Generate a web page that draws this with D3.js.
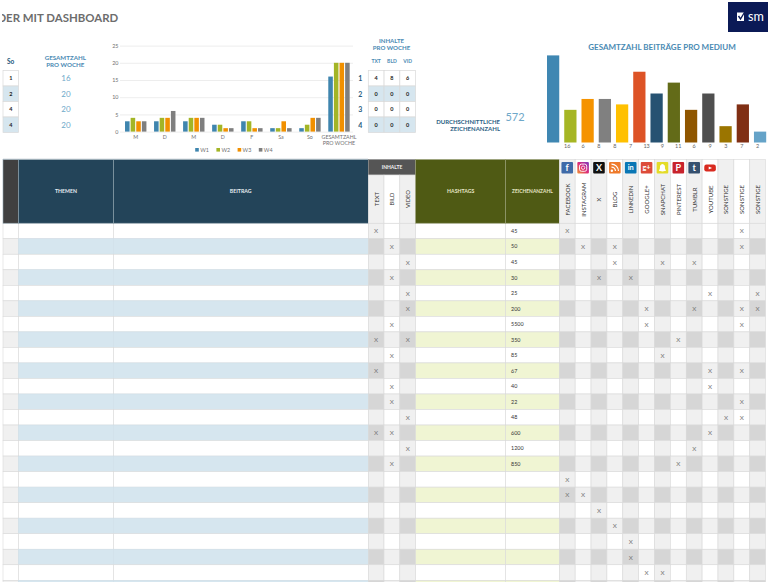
<!DOCTYPE html>
<html><head><meta charset="utf-8">
<script src="https://cdn.jsdelivr.net/npm/d3@7/dist/d3.min.js"></script>
<style>
html,body{margin:0;padding:0;background:#fff;overflow:hidden}
svg{display:block}
text{font-family:Lato,"Open Sans",sans-serif}
</style></head><body>
<svg id="c" width="768" height="582" viewBox="0 0 768 582"></svg>
<script>
// ---- data ----
const dayLabels = ["M","D","M","D","F","Sa","So","GESAMTZAHL|PRO WOCHE"];
const weekNames = ["W1","W2","W3","W4"];
const w1 = [3,3,3,2,3,1,1,16];
const w2 = [4,4,4,2,3,1,2,20];
const w3 = [3,4,4,1,1,3,4,20];
const w4 = [3,6,4,1,1,1,4,20];
const weekTicks = [0,5,10,15,20,25];
const sundayValues = [1,2,4,4];
const weekTotals = [16,20,20,20];
const weekNumbers = [1,2,3,4];
const contentKinds = ["TXT","BLD","VID"];
const contentPerWeek = [[4,8,6],[0,0,0],[0,0,0],[0,0,0]];
const avgChars = 572;
const platforms = ["FACEBOOK","INSTAGRAM","X","BLOG","LINKEDIN","GOOGLE+","SNAPCHAT","PINTEREST","TUMBLR","YOUTUBE","SONSTIGE","SONSTIGE ","SONSTIGE  "];
const platformTotals = [16,6,8,8,7,13,9,11,6,9,3,7,2];
const contentHeads = ["TEXT","BILD","VIDEO"];
const rowContent = [["TEXT"],["BILD"],["VIDEO"],["BILD"],["VIDEO"],["VIDEO"],["BILD"],["TEXT","VIDEO"],["BILD"],["TEXT"],["BILD"],["BILD"],["VIDEO"],["TEXT","BILD"],["VIDEO"],["BILD"],[],[],[],[],[],[],[],[]];
const rowChars = [45,50,45,30,25,200,5500,350,85,67,40,22,48,600,1200,850,"","","","","","","",""];
const rowPlatforms = [[0,11],[1,3,11],[3,6,8],[2,4],[9,12],[5,8,11,12],[5,11],[7],[6],[9,11],[9],[11],[10,11],[9],[8],[7],[0],[0,1],[2],[3],[4],[4],[5,6],[]];

// ---- styling ----
const weekColors = ["#3f85ae","#a3b526","#f19000","#7f7f7f"];
const mediumColors = ["#3f87b2","#a6b624","#f59300","#808080","#ffc000","#dd5326","#265272","#636b18","#8f5600","#4f4f4f","#9b7500","#802f14","#65a3c8"];
const iconFill = ["#3f6aa8","url(#ig)","#111111","#ee7a2b","#0a77b5","#dd4b39","#e4dc28","#c8232c","#35506f","#d92b20"];
const iconGlyph = ["f","","X","","in","g+","","P","t",""];
const blue = "#4a8ab3", light = "#6ea8c9";

const svg = d3.select("#c");
const defs = svg.append("defs");
defs.append("clipPath").attr("id","ct").append("rect").attr("x",2).attr("y",0).attr("width",200).attr("height",40);
const ig = defs.append("linearGradient").attr("id","ig").attr("x1",0).attr("y1",1).attr("x2",1).attr("y2",0);
ig.append("stop").attr("offset","0").attr("stop-color","#f09433");
ig.append("stop").attr("offset",".5").attr("stop-color","#dc2a7a");
ig.append("stop").attr("offset","1").attr("stop-color","#7a3cc0");
function t(x,y,s,o={}){
  return svg.append("text").attr("x",x).attr("y",y).text(s)
   .attr("text-anchor",o.a||"middle").attr("font-size",o.z||6).attr("font-weight",o.w||400)
   .attr("fill",o.c||"#444").attr("dominant-baseline","central");
}

// title + logo
t(-2.6,17,"DER MIT DASHBOARD",{a:"start",z:11.45,w:700,c:"#6d6d6d"}).attr("clip-path","url(#ct)");
svg.append("rect").attr("x",728).attr("y",2).attr("width",40).attr("height",30).attr("fill","#0b1a56");
svg.append("rect").attr("x",737).attr("y",12.5).attr("width",7).attr("height",8.5).attr("fill","#fff");
svg.append("path").attr("d",d3.line()([[738.5,16],[740.5,19],[745,11.5]])).attr("fill","none").attr("stroke","#0b1a56").attr("stroke-width",1.4);
t(748,16.5,"sm",{a:"start",z:12.6,c:"#fff"});

// small tables at the top
const rowY = d3.scaleBand().domain(d3.range(4)).range([70.5,132.5]);
function cell(x,w,i,val){
  svg.append("rect").attr("x",x).attr("y",rowY(i)).attr("width",w).attr("height",rowY.bandwidth())
    .attr("fill",i%2?"#d6e6ef":"#fff").attr("stroke","#d9d9d9").attr("stroke-width",.7);
  t(x+w/2,rowY(i)+rowY.bandwidth()/2,val,{z:5.5,w:700,c:"#222"});
}
t(10.7,61,"So",{z:6.5,w:700,c:"#24567a"});
sundayValues.forEach((v,i)=>cell(3,15.5,i,v));
t(65.3,57,"GESAMTZAHL",{z:6.2,w:700,c:blue});
t(65.3,64.7,"PRO WOCHE",{z:6.2,w:700,c:blue});
weekTotals.forEach((v,i)=>t(66,rowY(i)+rowY.bandwidth()/2,v,{z:8,c:light}));
weekNumbers.forEach((v,i)=>t(360.3,rowY(i)+rowY.bandwidth()/2,v,{z:7,w:700,c:"#2a5d80"}));
t(391.5,40.4,"INHALTE",{z:6.1,w:700,c:blue});
t(391.5,47.7,"PRO WOCHE",{z:6.1,w:700,c:blue});
const kindX = d3.scaleBand().domain(contentKinds).range([368.3,415.6]);
contentKinds.forEach((k,j)=>{
  t(kindX(k)+kindX.bandwidth()/2,61,k,{z:5,w:700,c:blue});
  contentPerWeek.forEach((r,i)=>cell(kindX(k),kindX.bandwidth(),i,r[j]));
});
t(500,121,"DURCHSCHNITTLICHE",{a:"end",z:6,w:700,c:"#2c5f84"});
t(500,128.5,"ZEICHENANZAHL",{a:"end",z:6,w:700,c:"#2c5f84"});
t(515,116.5,avgChars,{z:11,c:light});

// weekly chart
const yW = d3.scaleLinear().domain([0,25]).range([131.6,45.6]);
const xW = d3.scaleBand().domain(d3.range(dayLabels.length)).range([121.2,353.5]);
const xS = d3.scaleBand().domain(weekNames).range([0,21.4]).paddingInner(.19);
const offs = (xW.bandwidth()-21.4)/2;
const axisL = svg.append("g").attr("transform","translate(120,0)")
  .call(d3.axisLeft(yW).tickValues(weekTicks).tickSize(0).tickPadding(1.5));
axisL.select(".domain").remove();
axisL.selectAll("text").attr("font-size",5.4).attr("fill","#707070").style("font-family","Lato");
axisL.selectAll(".tick line").attr("x2",233).attr("stroke","#e8e8e8").attr("stroke-width",.8);
[w1,w2,w3,w4].forEach((vals,s)=>{
  svg.append("g").selectAll("rect").data(vals).join("rect")
    .attr("x",(d,i)=>xW(i)+offs+xS(weekNames[s])).attr("width",xS.bandwidth())
    .attr("y",d=>yW(d)).attr("height",d=>yW(0)-yW(d)).attr("fill",weekColors[s]);
});
dayLabels.forEach((d,i)=>{
  const cx=xW(i)+xW.bandwidth()/2;
  d.split("|").forEach((p,k)=>t(cx,137+k*5.6,p,{z:5.3,c:"#707070"}));
});
const legX = d3.scaleBand().domain(weekNames).range([194.7,279.5]);
weekNames.forEach((n,i)=>{
  svg.append("rect").attr("x",legX(n)+.5).attr("y",148).attr("width",3.6).attr("height",3.6).attr("fill",weekColors[i]);
  t(legX(n)+5.5,150,n,{a:"start",z:5.4,c:"#707070"});
});

// medium chart
t(662,46.5,"GESAMTZAHL BEITRÄGE PRO MEDIUM",{z:8,w:700,c:blue});
const yM = d3.scaleLinear().domain([0,16]).range([142.5,55.4]);
const xM = d3.scaleBand().domain(platforms).range([547,766.2]).paddingInner(.29).paddingOuter(0);
svg.append("g").selectAll("rect").data(platformTotals).join("rect")
  .attr("x",(d,i)=>xM(platforms[i])).attr("width",xM.bandwidth())
  .attr("y",d=>yM(d)).attr("height",d=>yM(0)-yM(d)).attr("fill",(d,i)=>mediumColors[i]);

// table
const colEdges = [3,18.5,113.5,368.3,384,399.8,415.6,505.5,559.3];
const xP = d3.scaleBand().domain(platforms).range([559.3,765.6]);
const headTop=159.5, headBot=223.2;
const rowH = d3.scaleLinear().domain([0,23]).range([headBot,580.3]);
const grid="#d9d9d9";
function box(x,y,w,h,f,s=grid){ svg.append("rect").attr("x",x).attr("y",y).attr("width",w).attr("height",h).attr("fill",f).attr("stroke",s).attr("stroke-width",.6); }

rowChars.forEach((ch,r)=>{
  const y=rowH(r), h=rowH(r+1)-y, even=r%2===1;
  box(3,y,15.5,h,even?"#f0f0f0":"#fff");
  box(18.5,y,95,h,even?"#d6e6ef":"#fff",even?"#d0dfe8":grid);
  box(113.5,y,254.8,h,even?"#d6e6ef":"#fff",even?"#d0dfe8":grid);
  contentHeads.forEach((c,j)=>{
    const dark=j!==1;
    box(colEdges[3+j],y,colEdges[4+j]-colEdges[3+j],h,even?(dark?"#d6d6d6":"#f0f0f0"):(dark?"#f0f0f0":"#fff"));
    if(rowContent[r].includes(c)) t((colEdges[3+j]+colEdges[4+j])/2,y+h/2,"X",{z:6.3,c:"#777"});
  });
  box(415.6,y,89.9,h,even?"#f0f5d3":"#fff");
  box(505.5,y,53.8,h,even?"#f0f5d3":"#fff");
  if(ch!=="") t(511,y+h/2,ch,{a:"start",z:5.4,c:"#333"});
  platforms.forEach((p,j)=>{
    const dark=j%2===0;
    box(xP(p),y,xP.bandwidth(),h,even?(dark?"#d6d6d6":"#f0f0f0"):(dark?"#f0f0f0":"#fff"));
  });
  rowPlatforms[r].forEach(j=>t(xP(platforms[j])+xP.bandwidth()/2,y+h/2,"X",{z:6.3,c:"#777"}));
});

// table headers
box(3,headTop,15.5,headBot-headTop,"#404040","#8fa3ae");
box(18.5,headTop,95,headBot-headTop,"#234459","#8fa3ae");
box(113.5,headTop,254.8,headBot-headTop,"#234459","#8fa3ae");
t(66,191,"THEMEN",{z:5.2,w:700,c:"#e8eef2"});
t(240.7,191,"BEITRAG",{z:5.2,w:700,c:"#e8eef2"});
box(368.3,headTop,47.3,15.5,"#555555","#8f8f8f");
t(392,167,"INHALTE",{z:5,w:700,c:"#f2f2f2"});
function vtext(x,y,s,z){ svg.append("text").attr("transform",`translate(${x},${y}) rotate(-90)`).text(s.trim())
  .attr("text-anchor","middle").attr("dominant-baseline","central").attr("font-size",z).attr("fill","#333"); }
contentHeads.forEach((c,j)=>{
  box(colEdges[3+j],175,colEdges[4+j]-colEdges[3+j],headBot-175,j===1?"#fff":"#f0f0f0");
  vtext((colEdges[3+j]+colEdges[4+j])/2,199,c,5.8);
});
box(415.6,headTop,89.9,headBot-headTop,"#4f5a14","#9aa078");
box(505.5,headTop,53.8,headBot-headTop,"#4f5a14","#9aa078");
t(460.7,191,"HASHTAGS",{z:5.2,w:700,c:"#e6e6c6"});
t(532.4,191,"ZEICHENANZAHL",{z:4.9,w:700,c:"#e6e6c6"});
platforms.forEach((p,j)=>{
  box(xP(p),headTop,xP.bandwidth(),headBot-headTop,j%2===0?"#f0f0f0":"#fff");
  vtext(xP(p)+xP.bandwidth()/2,199.5,p,6);
  if(j<iconFill.length){
    const cx=xP(p)+xP.bandwidth()/2, cy=167.7, yt=j===9;
    svg.append("rect").attr("x",cx-5.8).attr("y",yt?164.5:162).attr("width",11.6).attr("height",yt?7:11.4).attr("rx",yt?2.2:1).attr("fill",iconFill[j]);
    if(iconGlyph[j]) t(cx,cy-.2,iconGlyph[j],{z:j===4||j===5?7.4:9,w:700,c:"#fff"});
    if(j===1){ // instagram camera
      svg.append("rect").attr("x",cx-3.6).attr("y",cy-3.6).attr("width",7.2).attr("height",7.2).attr("rx",2).attr("fill","none").attr("stroke","#fff").attr("stroke-width",.9);
      svg.append("circle").attr("cx",cx).attr("cy",cy).attr("r",1.7).attr("fill","none").attr("stroke","#fff").attr("stroke-width",.8);
    }
    if(j===3){ // blog feed
      svg.append("circle").attr("cx",cx-3).attr("cy",cy+3).attr("r",1.2).attr("fill","#fff");
      [4,7].forEach(r=>svg.append("path").attr("transform",`translate(${cx-3.4},${cy+3.4})`)
        .attr("d",d3.arc()({innerRadius:r-.6,outerRadius:r+.6,startAngle:0,endAngle:Math.PI/2})).attr("fill","#fff"));
    }
    if(j===6){ // snapchat ghost
      svg.append("path").attr("d",`M${cx-3.6},${cy+3} L${cx-2.6},${cy+1} L${cx-2.4},${cy-2} Q${cx},${cy-5.2} ${cx+2.4},${cy-2} L${cx+2.6},${cy+1} L${cx+3.6},${cy+3} L${cx},${cy+3.8} Z`).attr("fill","#fff");
    }
    if(j===9){ // youtube play
      svg.append("path").attr("d",d3.line()([[cx-1.4,166.4],[cx+2,168],[cx-1.4,169.6]])).attr("fill","#fff");
    }
  }
});

// medium value labels sit on the table's column centres
platformTotals.forEach((v,i)=>t(xP(platforms[i])+xP.bandwidth()/2,145.6,v,{z:5.5,c:"#666"}));

// rule above table
svg.append("line").attr("x1",3).attr("x2",368).attr("y1",159.2).attr("y2",159.2).attr("stroke","#a9b9c2").attr("stroke-width",.8);
</script>
</body></html>
